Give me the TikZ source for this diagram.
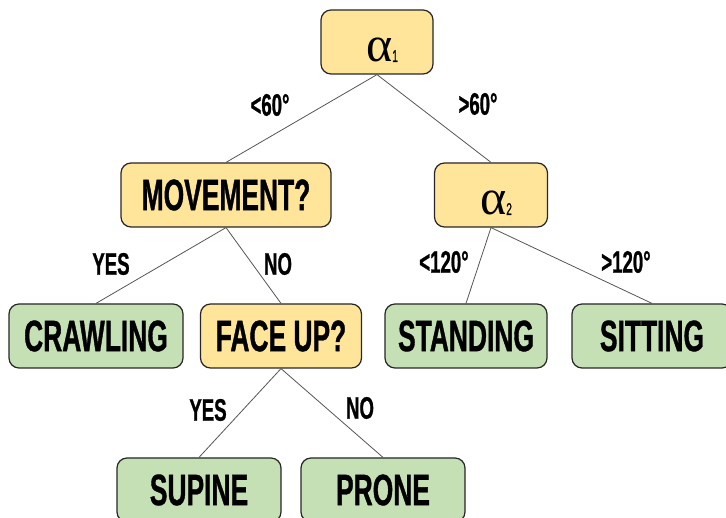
\documentclass[tikz,border=0pt]{standalone}
\usepackage{fontspec}
\setmainfont{Liberation Sans}
\newfontfamily\narrowfont[FakeStretch=0.6, FakeBold=0.8]{Liberation Sans}
\newfontfamily\greekfont{Liberation Serif}
\usetikzlibrary{positioning}
\definecolor{askfill}{HTML}{FFE599}
\definecolor{leaffill}{HTML}{C5E0B4}
\definecolor{edgegray}{HTML}{555555}
\newcommand{\angnode}[1]{\hspace*{10pt}\raisebox{-20pt}[0pt][0pt]{\mdseries\greekfont\fontsize{50}{50}\selectfont α\fontsize{17}{17}\selectfont\narrowfont\mdseries #1}}

\begin{document}
\begin{tikzpicture}[
  x=1pt, y=-1pt,
  every node/.style={font=\narrowfont\bfseries\fontsize{44}{44}\selectfont},
  ask/.style={rectangle, draw=black!85, fill=askfill, rounded corners=10pt,
              minimum height=64pt, line width=1.2pt, inner sep=0pt},
  leaf/.style={rectangle, draw=black!85, fill=leaffill, rounded corners=10pt,
               minimum height=64pt, line width=1.2pt, inner sep=0pt},
  e/.style={draw=edgegray, line width=0.8pt},
  lbl/.style={font=\narrowfont\bfseries\fontsize{31}{31}\selectfont}
]
  \useasboundingbox (0,0) rectangle (726,518);

  % decision nodes
  \node[ask, minimum width=112pt] (a1) at (377,42) {\angnode{1}};
  \node[ask, minimum width=210pt] (mov) at (226,195) {MOVEMENT?};
  \node[ask, minimum width=113pt] (a2) at (491,195) {\angnode{2}};
  \node[ask, minimum width=161pt] (face) at (281,336) {FACE UP?};

  % leaves
  \node[leaf, minimum width=174pt] (crawl) at (96,336) {CRAWLING};
  \node[leaf, minimum width=162pt] (stand) at (466,336) {STANDING};
  \node[leaf, minimum width=160pt] (sit) at (652,336) {SITTING};
  \node[leaf, minimum width=164pt] (sup) at (199,490) {SUPINE};
  \node[leaf, minimum width=164pt] (pro) at (383,490) {PRONE};

  \draw[e] (a1.south) -- (mov.north);   \draw[e] (a1.south) -- (a2.north);
  \draw[e] (mov.south) -- (crawl.north); \draw[e] (mov.south) -- (face.north);
  \draw[e] (a2.south) -- (stand.north);  \draw[e] (a2.south) -- (sit.north);
  \draw[e] (face.south) -- (sup.north);  \draw[e] (face.south) -- (pro.north);

  \node[lbl] (l1) at (270,105) {<60°};
  \node[lbl] (l2) at (478,104) {>60°};
  \node[lbl] (l3) at (111,264) {YES};
  \node[lbl] (l4) at (278,264) {NO};
  \node[lbl] (l5) at (444,262) {<120°};
  \node[lbl] (l6) at (626,262) {>120°};
  \node[lbl] (l7) at (208,410) {YES};
  \node[lbl] (l8) at (360,408) {NO};
\end{tikzpicture}
\end{document}
